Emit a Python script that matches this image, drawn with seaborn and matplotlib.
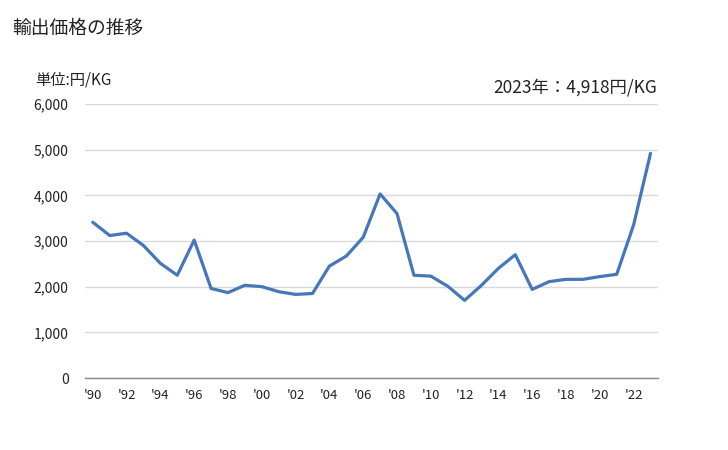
import matplotlib
matplotlib.use("Agg")
import matplotlib.pyplot as plt
import seaborn as sns
import pandas as pd
from matplotlib.ticker import FuncFormatter

years = list(range(1990, 2024))
values = [3410, 3120, 3170, 2900, 2510, 2250, 3020, 1960, 1870, 2030,
          2000, 1890, 1830, 1850, 2450, 2670, 3080, 4030, 3600, 2250,
          2230, 2010, 1700, 2030, 2400, 2700, 1940, 2110, 2160, 2160,
          2220, 2270, 3350, 4918]
tick_years = list(range(1990, 2023, 2))
tick_labels = ["'" + str(y)[2:] for y in tick_years]
title = "輸出価格の推移"
unit_label = "単位:円/KG"
latest_label = "2023年：4,918円/KG"

sns.set_theme(style="white")
plt.rcParams['font.family'] = ['Noto Sans CJK JP', 'DejaVu Sans']

df = pd.DataFrame({"year": years, "value": values})

fig = plt.figure(figsize=(7.28, 4.5), dpi=100)
ax = fig.add_axes([0.117, 0.16, 0.787, 0.609])

sns.lineplot(data=df, x="year", y="value", ax=ax, color="#4677b8", linewidth=2.3)

ax.set_xlim(1989.55, 2023.45)
ax.set_ylim(0, 6000)
ax.set_yticks(range(0, 6001, 1000))
ax.yaxis.set_major_formatter(FuncFormatter(lambda v, p: f"{int(v):,}"))
ax.set_xticks(tick_years)
ax.set_xticklabels(tick_labels)
ax.set_xlabel("")
ax.set_ylabel("")
ax.grid(axis="y", color="#d9d9d9", linewidth=1)
ax.grid(axis="x", visible=False)
for s in ["top", "right", "left"]:
    ax.spines[s].set_visible(False)
ax.spines["bottom"].set_color("#888888")
ax.spines["bottom"].set_linewidth(1)
ax.tick_params(axis="y", length=0, pad=12, labelsize=10, labelcolor="#222222")
ax.tick_params(axis="x", length=0, pad=8, labelsize=9.5, labelcolor="#222222")
ax.set_axisbelow(True)

fig.text(12/728, 1 - 28/450, title, fontsize=13.5, va="center", ha="left", color="#222222")
fig.text(35/728, 1 - 80/450, unit_label, fontsize=11, va="center", ha="left", color="#222222")
fig.text(657/728, 1 - 88/450, latest_label, fontsize=12.5, va="center", ha="right", color="#222222")

fig.savefig("out.png", dpi=100)
